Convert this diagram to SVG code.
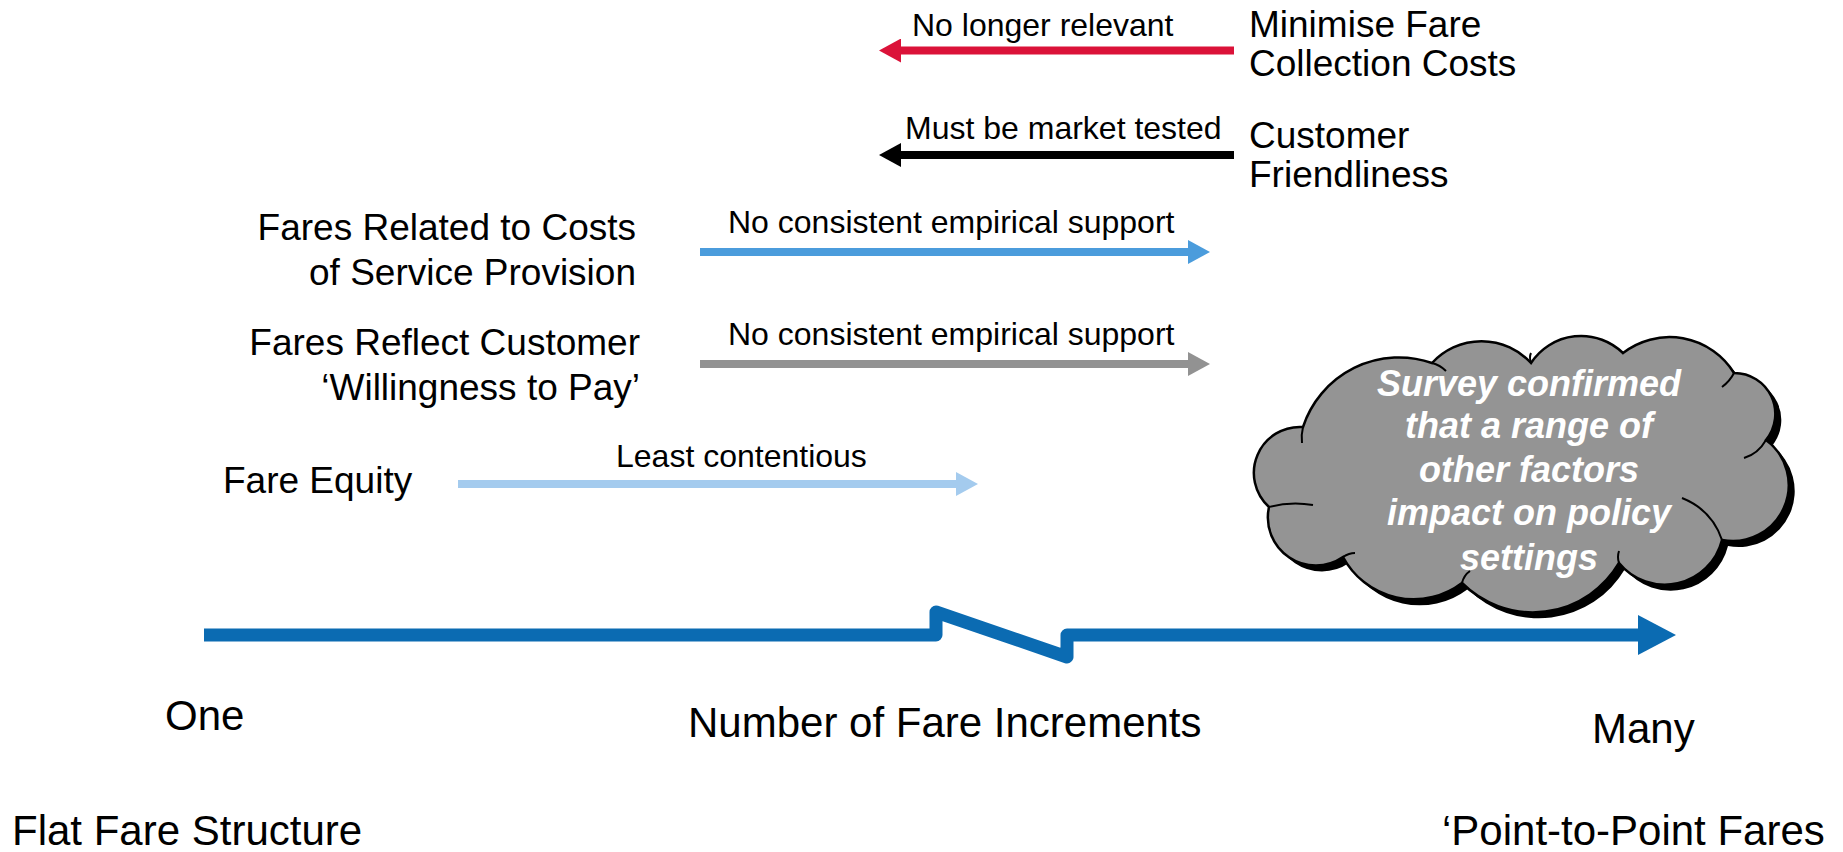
<svg xmlns="http://www.w3.org/2000/svg" width="1843" height="852" viewBox="0 0 1843 852">
<defs>
<style>
text{font-family:"Liberation Sans",Arial,sans-serif;fill:#000}
.s{font-size:32px}
.m{font-size:37px}
.l{font-size:42px}
.c{font-size:36px;font-weight:bold;font-style:italic;fill:#fff;text-anchor:middle}
.r{text-anchor:end}
.ln{stroke-width:8;fill:none}
</style>
<marker id="hRed" viewBox="0 0 22 24" refX="0" refY="12" markerWidth="22" markerHeight="24" markerUnits="userSpaceOnUse" orient="auto"><path d="M0,0 L22,12 L0,24 z" fill="#DB1239"/></marker>
<marker id="hBlack" viewBox="0 0 22 24" refX="0" refY="12" markerWidth="22" markerHeight="24" markerUnits="userSpaceOnUse" orient="auto"><path d="M0,0 L22,12 L0,24 z" fill="#000"/></marker>
<marker id="hBlue" viewBox="0 0 22 24" refX="0" refY="12" markerWidth="22" markerHeight="24" markerUnits="userSpaceOnUse" orient="auto"><path d="M0,0 L22,12 L0,24 z" fill="#4B9CDC"/></marker>
<marker id="hGrey" viewBox="0 0 22 24" refX="0" refY="12" markerWidth="22" markerHeight="24" markerUnits="userSpaceOnUse" orient="auto"><path d="M0,0 L22,12 L0,24 z" fill="#929292"/></marker>
<marker id="hLight" viewBox="0 0 22 24" refX="0" refY="12" markerWidth="22" markerHeight="24" markerUnits="userSpaceOnUse" orient="auto"><path d="M0,0 L22,12 L0,24 z" fill="#A4CBEE"/></marker>
<path id="cloudShape" d="M1269,507 A46,46 0 0 1 1303,427 A101,101 0 0 1 1432,363 A67,67 0 0 1 1531,363 A60,60 0 0 1 1623,353 A76,76 0 0 1 1734,373 A41,41 0 0 1 1766,440 A56,56 0 0 1 1722,540 A59,59 0 0 1 1619,563 A100,100 0 0 1 1462,583 A80,80 0 0 1 1343,557 A48,48 0 0 1 1269,507 Z"/>
</defs>
<rect width="1843" height="852" fill="#fff"/>

<g id="connectors">
<line class="ln" x1="1234" y1="50.5" x2="901" y2="50.5" stroke="#DB1239" marker-end="url(#hRed)"/>
<line class="ln" x1="1234" y1="155" x2="901" y2="155" stroke="#000" marker-end="url(#hBlack)"/>
<line class="ln" x1="700" y1="252" x2="1188" y2="252" stroke="#4B9CDC" marker-end="url(#hBlue)"/>
<line class="ln" x1="700" y1="364" x2="1188" y2="364" stroke="#929292" marker-end="url(#hGrey)"/>
<line class="ln" x1="458" y1="484" x2="956" y2="484" stroke="#A4CBEE" marker-end="url(#hLight)"/>
</g>

<g id="arrow-labels">
<text class="s" x="912" y="36">No longer relevant</text>
<text class="s" x="905" y="139">Must be market tested</text>
<text class="s" x="728" y="233">No consistent empirical support</text>
<text class="s" x="728" y="345">No consistent empirical support</text>
<text class="s" x="616" y="467">Least contentious</text>
</g>

<g id="node-minimise">
<text class="m" x="1249" y="37">Minimise Fare</text>
<text class="m" x="1249" y="76">Collection Costs</text>
</g>
<g id="node-customer">
<text class="m" x="1249" y="148">Customer</text>
<text class="m" x="1249" y="187">Friendliness</text>
</g>
<g id="node-costs">
<text class="m r" x="636" y="240">Fares Related to Costs</text>
<text class="m r" x="636" y="285">of Service Provision</text>
</g>
<g id="node-wtp">
<text class="m r" x="640" y="355">Fares Reflect Customer</text>
<text class="m r" x="640" y="400">‘Willingness to Pay’</text>
</g>
<g id="node-equity">
<text class="m" x="223" y="493">Fare Equity</text>
</g>

<g id="axis">
<path d="M204,635 H936 V612 L1067,657 V635 H1641" fill="none" stroke="#0B6BB2" stroke-width="13" stroke-linejoin="round"/>
<polygon points="1638,615 1676,635 1638,655" fill="#0B6BB2"/>
<text class="l" x="165" y="730">One</text>
<text class="l" x="688" y="737">Number of Fare Increments</text>
<text class="l" x="1592" y="743">Many</text>
<text class="l" x="12" y="845">Flat Fare Structure</text>
<text class="l" x="1442" y="845">‘Point-to-Point Fares</text>
</g>

<g id="cloud">
<use href="#cloudShape" transform="translate(6,6)" fill="#000"/>
<use href="#cloudShape" fill="#949494" stroke="#000" stroke-width="2.5"/>
<g fill="none" stroke="#000" stroke-width="2">
<path d="M1303,427 q-2,8 -1,16"/>
<path d="M1432,363 q8,2 14,8"/>
<path d="M1531,363 q-2,-6 0,-10"/>
<path d="M1734,373 q-4,8 -12,14"/>
<path d="M1766,440 q-8,14 -22,18"/>
<path d="M1722,540 q-10,-30 -40,-42"/>
<path d="M1619,563 q-2,-6 0,-12"/>
<path d="M1462,583 q2,-8 8,-12"/>
<path d="M1343,557 q6,-4 12,-4"/>
<path d="M1269,507 q22,-6 44,-2"/>
</g>
<text class="c" x="1529" y="396">Survey confirmed</text>
<text class="c" x="1529" y="438">that a range of</text>
<text class="c" x="1529" y="482">other factors</text>
<text class="c" x="1529" y="525">impact on policy</text>
<text class="c" x="1529" y="570">settings</text>
</g>
</svg>
